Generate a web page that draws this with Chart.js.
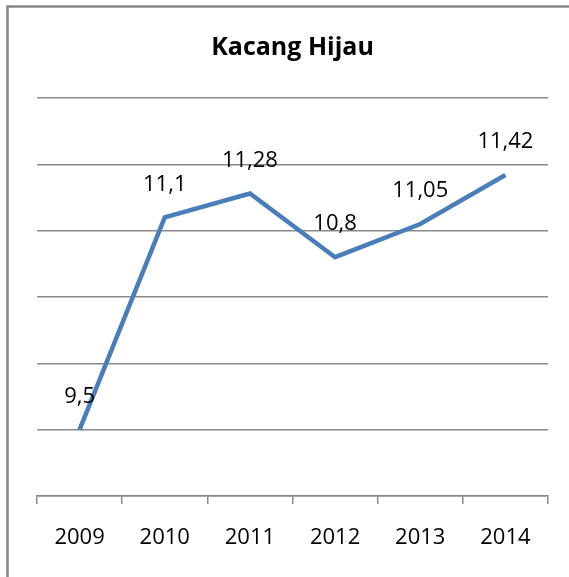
<!DOCTYPE html>
<html>
<head>
<meta charset="utf-8">
<script src="https://cdn.jsdelivr.net/npm/chart.js@4"></script>
<style>
  html, body { margin: 0; padding: 0; background: #fff; }
  #wrap { width: 569px; height: 577px; position: relative; }
</style>
</head>
<body>
<div id="wrap"><canvas id="c" width="569" height="577"></canvas></div>
<script>
const years = ['2009', '2010', '2011', '2012', '2013', '2014']
const values = [9.5, 11.1, 11.28, 10.8, 11.05, 11.42]
const yMin = 9
const yMax = 12
const yStep = 0.5

const font = "'Open Sans', 'Liberation Sans', sans-serif"

// gray frame on the left and top, like the cropped Excel chart border
const frame = {
  id: 'frame',
  beforeDraw(chart) {
    const ctx = chart.ctx
    ctx.save()
    ctx.fillStyle = '#fff'
    ctx.fillRect(0, 0, chart.width, chart.height)
    ctx.strokeStyle = '#888'
    ctx.lineWidth = 2.5
    ctx.beginPath()
    ctx.moveTo(7.5, chart.height)
    ctx.lineTo(7.5, 6.5)
    ctx.lineTo(chart.width, 6.5)
    ctx.stroke()
    ctx.restore()
  }
}

// value labels above each point, comma decimals
const valueLabels = {
  id: 'valueLabels',
  afterDatasetsDraw(chart) {
    const ctx = chart.ctx
    const meta = chart.getDatasetMeta(0)
    ctx.save()
    ctx.fillStyle = '#000'
    ctx.font = '22px ' + font
    ctx.textAlign = 'center'
    ctx.textBaseline = 'middle'
    meta.data.forEach((pt, i) => {
      const txt = String(values[i]).replace('.', ',')
      ctx.fillText(txt, pt.x, pt.y - 33)
    })
    ctx.restore()
  }
}

new Chart(document.getElementById('c'), {
  type: 'line',
  data: {
    labels: years,
    datasets: [{
      data: values,
      borderColor: '#4a7ebb',
      borderWidth: 4.5,
      pointRadius: 0,
      tension: 0,
      fill: false
    }]
  },
  options: {
    responsive: false,
    animation: false,
    layout: { padding: { left: 37, right: 21, top: 0, bottom: 0 } },
    plugins: {
      legend: { display: false },
      tooltip: { enabled: false },
      title: {
        display: true,
        text: 'Kacang Hijau',
        color: '#000',
        font: { family: font, size: 25, weight: 'bold' },
        padding: { top: 33, bottom: 35 }
      }
    },
    scales: {
      x: {
        offset: true,
        grid: {
          offset: true,
          drawOnChartArea: false,
          tickLength: 8,
          color: '#898989',
          lineWidth: 1.5
        },
        border: { display: true, color: '#898989', width: 1.5 },
        ticks: {
          color: '#000',
          font: { family: font, size: 22 },
          padding: 21,
          maxRotation: 0
        },
        afterFit(s) { s.height = 81 }
      },
      y: {
        min: yMin,
        max: yMax,
        ticks: { display: false, stepSize: yStep },
        grid: { color: '#898989', lineWidth: 1.5, drawTicks: false },
        border: { display: false },
        afterFit(s) { s.width = 0 }
      }
    }
  },
  plugins: [frame, valueLabels]
})
</script>
</body>
</html>
